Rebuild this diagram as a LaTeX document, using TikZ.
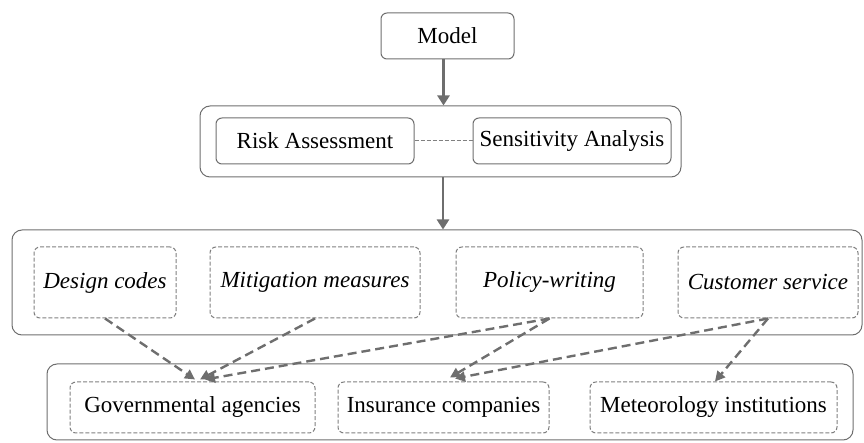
\documentclass[tikz,border=0pt]{standalone}
\usepackage{fontspec}
\setmainfont{Liberation Serif}
\usetikzlibrary{arrows.meta,calc}

\definecolor{linegray}{HTML}{6E6E6E}
\definecolor{boxgray}{HTML}{808080}

\begin{document}
\begin{tikzpicture}[x=0.5pt,y=-0.5pt,
        font=\fontsize{11.5}{13}\selectfont,
        solidbox/.style={draw=linegray,line width=0.5pt,rounded corners=3pt,inner sep=0pt},
        groupbox/.style={draw=linegray,line width=0.5pt,rounded corners=5pt,inner sep=0pt},
        dashbox/.style={draw=boxgray,line width=0.5pt,dash pattern=on 2pt off 1pt,rounded corners=3pt,inner sep=0pt},
        flow/.style={draw=linegray,line width=1.3pt,-{Triangle[length=5pt,width=6pt]}},
        link/.style={draw=linegray,line width=1.2pt,dash pattern=on 4.5pt off 2.5pt,-{Triangle[length=5pt,width=5pt]}}]
    \useasboundingbox (0,0) rectangle (864,443);

    % group frames
    \node[groupbox,minimum width=240.5pt,minimum height=35.5pt] (analysis) at (440.5,141.5) {};
    \node[groupbox,minimum width=425pt,minimum height=52.5pt] (uses) at (437,282.5) {};
    \node[groupbox,minimum width=403pt,minimum height=38pt] (users) at (450,402) {};

    % top
    \node[solidbox,minimum width=66.5pt,minimum height=23pt] (model) at (447.5,36) {Model};
    \node[solidbox,minimum width=99pt,minimum height=23pt] (risk) at (315,141) {Risk Assessment};
    \node[solidbox,minimum width=99pt,minimum height=23pt] (sens) at (572,141) {Sensitivity Analysis};
    \draw[boxgray,line width=0.5pt,dash pattern=on 2pt off 1pt] (risk) -- (sens);

    % applications
    \node[dashbox,minimum width=71pt,minimum height=35.5pt] (design) at (105,282.5) {\textit{Design codes}};
    \node[dashbox,minimum width=105pt,minimum height=35.5pt] (mitig) at (315,282.5) {\textit{Mitigation measures}};
    \node[dashbox,minimum width=93.5pt,minimum height=35.5pt] (policy) at (549.5,282.5) {\textit{Policy-writing}};
    \node[dashbox,minimum width=90pt,minimum height=35.5pt] (service) at (768,282.5) {\textit{Customer service}};

    % stakeholders
    \node[dashbox,minimum width=122.5pt,minimum height=25.5pt] (gov) at (192.5,407.5) {Governmental agencies};
    \node[dashbox,minimum width=105.5pt,minimum height=25.5pt] (ins) at (443.5,407.5) {Insurance companies};
    \node[dashbox,minimum width=123.5pt,minimum height=25.5pt] (met) at (713.5,407.5) {Meteorology institutions};

    \coordinate (m1) at ($(model.south)+(-4,0)$);
    \coordinate (m2) at ($(analysis.south)+(2.5,0)$);
    \draw[flow] (m1) -- (m1 |- analysis.north);
    \draw[flow] (m2) -- (m2 |- uses.north);

    \draw[link] (design.south) -- ($(gov.north)+(2.5,-2)$);
    \draw[link] (mitig.south) -- ($(gov.north)+(7.5,-2)$);
    \draw[link] (policy.south) -- ($(gov.north)+(12.5,-2)$);
    \draw[link] (policy.south) -- ($(ins.north)+(6.5,-4)$);
    \draw[link] (service.south) -- ($(ins.north)+(11.5,-3)$);
    \draw[link] (service.south) -- ($(met.north)+(1.5,0)$);
\end{tikzpicture}
\end{document}
